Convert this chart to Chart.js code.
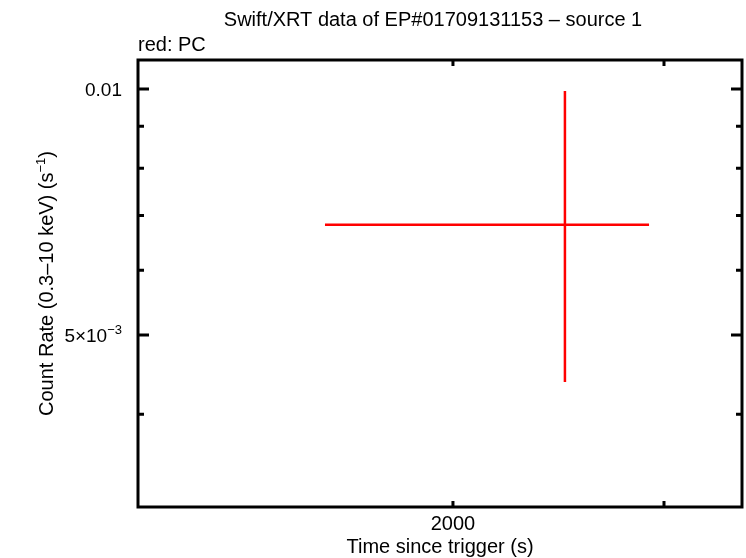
<!DOCTYPE html>
<html>
<head>
<meta charset="utf-8">
<script src="https://cdn.jsdelivr.net/npm/chart.js@4/dist/chart.umd.min.js"></script>
<style>
  body { margin: 0; background: #fff; }
  canvas { display: block; }
</style>
</head>
<body>
<canvas id="lc" width="746" height="558"></canvas>
<script>
// light curve point (PC mode)
const pcTime = [2480];
const pcTimeLo = [1564];
const pcTimeHi = [2915];
const pcRate = [0.00682];
const pcRateLo = [0.00438];
const pcRateHi = [0.00994];

// axis ranges and ticks
const xRange = [1092, 3485];
const yRange = [0.00308, 0.01085];
const xMajor = [2000, 3000];
const xLabels = ['2000', ''];
const yMajor = [0.01, 0.005];
const yLabels = [[['0.01', false]], [['5\u00d710', false], ['\u22123', true]]];
const yMinor = [0.009, 0.008, 0.007, 0.006, 0.004];

const FONT = '"Liberation Sans", Arial, sans-serif';

// horizontal and vertical error bar segments as line datasets
const datasets = [];
pcTime.forEach((t, i) => {
    datasets.push({
        data: [{x: pcTimeLo[i], y: pcRate[i]}, {x: pcTimeHi[i], y: pcRate[i]}],
        borderColor: '#ff0000', borderWidth: 2.5, pointRadius: 0, showLine: true
    });
    datasets.push({
        data: [{x: t, y: pcRateLo[i]}, {x: t, y: pcRateHi[i]}],
        borderColor: '#ff0000', borderWidth: 2.5, pointRadius: 0, showLine: true
    });
});

function richWidth(ctx, parts, size, supSize) {
    let w = 0;
    parts.forEach(([t, sup]) => {
        ctx.font = (sup ? supSize : size) + 'px ' + FONT;
        w += ctx.measureText(t).width;
    });
    return w;
}

function drawRich(ctx, parts, x, y, align, size, supSize) {
    const w = richWidth(ctx, parts, size, supSize);
    let cx = align === 'right' ? x - w : align === 'center' ? x - w / 2 : x;
    ctx.textAlign = 'left';
    ctx.textBaseline = 'alphabetic';
    parts.forEach(([t, sup]) => {
        ctx.font = (sup ? supSize : size) + 'px ' + FONT;
        ctx.fillText(t, cx, sup ? y - size * 0.42 : y);
        cx += ctx.measureText(t).width;
    });
}

const framePlugin = {
    id: 'frame',
    afterDraw(chart) {
        const ctx = chart.ctx;
        const a = chart.chartArea;
        const xs = chart.scales.x, ys = chart.scales.y;
        ctx.save();
        ctx.strokeStyle = '#000';
        ctx.fillStyle = '#000';
        ctx.lineWidth = 3;
        ctx.strokeRect(a.left, a.top, a.right - a.left, a.bottom - a.top);

        ctx.beginPath();
        yMajor.forEach(v => {
            const p = ys.getPixelForValue(v);
            ctx.moveTo(a.left, p); ctx.lineTo(a.left + 11, p);
            ctx.moveTo(a.right, p); ctx.lineTo(a.right - 11, p);
        });
        yMinor.forEach(v => {
            const p = ys.getPixelForValue(v);
            ctx.moveTo(a.left, p); ctx.lineTo(a.left + 6, p);
            ctx.moveTo(a.right, p); ctx.lineTo(a.right - 6, p);
        });
        xMajor.forEach(v => {
            const p = xs.getPixelForValue(v);
            ctx.moveTo(p, a.bottom); ctx.lineTo(p, a.bottom - 6);
            ctx.moveTo(p, a.top); ctx.lineTo(p, a.top + 6);
        });
        ctx.stroke();

        // tick labels
        yMajor.forEach((v, i) => {
            const p = ys.getPixelForValue(v);
            drawRich(ctx, yLabels[i], a.left - 16, p + 7, 'right', 19, 13);
        });
        ctx.font = '20px ' + FONT;
        ctx.textAlign = 'center';
        ctx.textBaseline = 'alphabetic';
        xMajor.forEach((v, i) => {
            ctx.fillText(xLabels[i], xs.getPixelForValue(v), a.bottom + 23);
        });

        // titles
        ctx.fillText('Swift/XRT data of EP#01709131153 \u2013 source 1', 433, 26);
        ctx.textAlign = 'left';
        ctx.fillText('red: PC', a.left, 51);
        ctx.textAlign = 'center';
        ctx.fillText('Time since trigger (s)', (a.left + a.right) / 2, 553);

        ctx.translate(53, (a.top + a.bottom) / 2);
        ctx.rotate(-Math.PI / 2);
        drawRich(ctx, [['Count Rate (0.3\u201310 keV) (s', false], ['\u22121', true], [')', false]],
            0, 0, 'center', 20, 13);
        ctx.restore();
    }
};

new Chart(document.getElementById('lc'), {
    type: 'scatter',
    data: { datasets: datasets },
    options: {
        responsive: false,
        animation: false,
        layout: { padding: { left: 138, right: 4, top: 60, bottom: 51 } },
        plugins: { legend: { display: false }, tooltip: { enabled: false } },
        scales: {
            x: { type: 'logarithmic', min: xRange[0], max: xRange[1], display: false },
            y: { type: 'logarithmic', min: yRange[0], max: yRange[1], display: false }
        }
    },
    plugins: [framePlugin]
});
</script>
</body>
</html>
